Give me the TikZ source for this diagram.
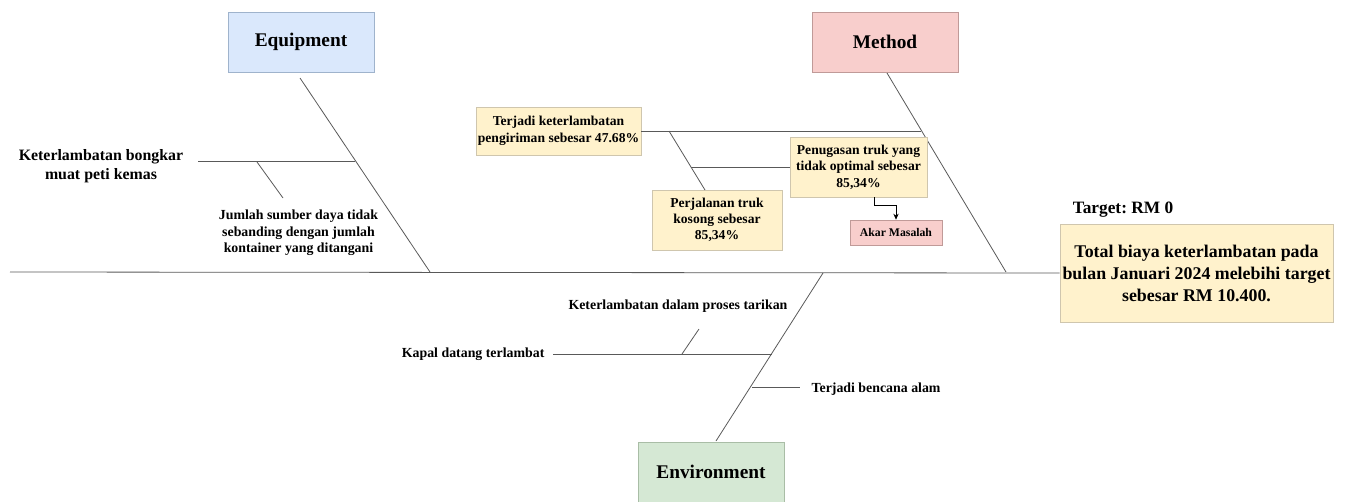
\documentclass[tikz,border=0pt]{standalone}
\usepackage{fontspec}
\setmainfont{Liberation Serif}
\usetikzlibrary{calc,arrows.meta}
\frenchspacing

\definecolor{eqfill}{HTML}{DAE8FC}
\definecolor{eqline}{HTML}{9FB3CC}
\definecolor{mefill}{HTML}{F8CECC}
\definecolor{meline}{HTML}{C09A98}
\definecolor{enfill}{HTML}{D5E8D4}
\definecolor{enline}{HTML}{A9BDA6}
\definecolor{yefill}{HTML}{FFF2CC}
\definecolor{yeline}{HTML}{CFC6AE}

\begin{document}
\begin{tikzpicture}[x=0.75pt, y=-0.75pt,
	catbox/.style={rectangle, draw=#1line, fill=#1fill, line width=0.6pt, minimum width=109.5pt, minimum height=45pt, font=\fontsize{14.5}{16}\selectfont\bfseries},
	causebox/.style={rectangle, draw=yeline, fill=yefill, line width=0.5pt, align=center, inner sep=0.5pt, font=\fontsize{10.2}{12.5}\selectfont\bfseries},
	causetext/.style={align=center, inner sep=1pt, font=\fontsize{10.4}{12.5}\selectfont\bfseries},
	bone/.style={draw=black!65, line width=0.6pt},
	]
	\useasboundingbox (0,0) rectangle (1347,501);

	% head of the fish
	\node[rectangle, draw=yeline, fill=yefill, line width=0.6pt, minimum width=204.75pt, minimum height=73.5pt, align=center, inner sep=1pt, font=\fontsize{13.4}{16.5}\selectfont\bfseries] at (1196.5, 273) (effect) {Total biaya keterlambatan pada\\bulan Januari 2024 melebihi target\\sebesar RM 10.400.};
	\node[font=\fontsize{13}{15}\selectfont\bfseries] at (1123, 210) (target) {Target: RM 0};

	% categories
	\node[catbox=eq] at (301, 42) (equip) {Equipment};
	\node[catbox=me] at (885, 42) (method) {Method};
	\node[catbox=en] at (711, 472) (environ) {Environment};

	% spine and main bones
	\coordinate (tail) at (10, 272);
	\coordinate (eqtop) at (300, 78);
	\coordinate (eqjoin) at (430, 272);
	\coordinate (metop) at (887, 73);
	\coordinate (mejoin) at (1006, 272);
	\coordinate (enjoin) at (823, 273);
	\coordinate (entop) at (716, 441);
	\draw[bone] (tail) -- (effect.west);
	\draw[bone] (eqtop) -- (eqjoin);
	\draw[bone] (metop) -- (mejoin);
	\draw[bone] (enjoin) -- (entop);

	% equipment causes
	\node[causetext, font=\fontsize{11.9}{14}\selectfont\bfseries] at (101, 166) (bongkar) {Keterlambatan bongkar\\muat peti kemas};
	\node[causetext] at (298.5, 233) (sumber) {Jumlah sumber daya tidak\\sebanding dengan jumlah\\kontainer yang ditangani};
	\coordinate (bongkarl) at (198, 161);
	\coordinate (bongkarr) at (355, 161);
	\coordinate (sumbera) at (257, 162);
	\coordinate (sumberb) at (283, 198);
	\draw[bone] (bongkarl) -- (bongkarr);
	\draw[bone] (sumbera) -- (sumberb);

	% method causes
	\node[causebox, minimum width=123.75pt, minimum height=36pt] at (558.5, 131) (kirim) {Terjadi keterlambatan\\pengiriman sebesar 47.68\%};
	\node[causebox, minimum width=97.5pt, minimum height=45pt] at (717, 220) (kosong) {\raisebox{-3pt}{\shortstack{Perjalanan truk\\kosong sebesar\\85,34\%}}};
	\node[causebox, minimum width=102.75pt, minimum height=45pt] at (858.5, 167) (tugas) {Penugasan truk yang\\tidak optimal sebesar\\85,34\%};
	\node[rectangle, draw=meline, fill=mefill, line width=0.5pt, minimum width=69pt, minimum height=18.75pt, font=\fontsize{8.8}{10}\selectfont\bfseries] at (896, 232.5) (akar) {Akar Masalah};
	\coordinate (kirimr) at (921, 131);
	\coordinate (kosonga) at (669, 131);
	\coordinate (kosongb) at (705, 190);
	\coordinate (tugasl) at (691, 167);
	\draw[bone] (kirim.east) -- (kirimr);
	\draw[bone] (kosonga) -- (kosongb);
	\draw[bone] (tugasl) -- (tugas.west);
	\draw[black, line width=0.6pt, -{Stealth[length=4.5pt, width=4pt]}] ([xshift=12pt]tugas.south) -- ++(0, 8) -| (akar.north);

	% environment causes
	\node[causetext, anchor=east] at (546, 354) (kapal) {Kapal datang terlambat};
	\node[causetext] at (678, 306) (tarikan) {Keterlambatan dalam proses tarikan};
	\node[causetext, anchor=west] at (810, 389) (bencana) {Terjadi bencana alam};
	\coordinate (kapall) at (553, 354);
	\coordinate (kapalr) at (772, 354);
	\coordinate (tarikana) at (682, 354);
	\coordinate (tarikanb) at (699, 329);
	\coordinate (bencanal) at (752, 387);
	\coordinate (bencanar) at (800, 387);
	\draw[bone] (kapall) -- (kapalr);
	\draw[bone] (tarikana) -- (tarikanb);
	\draw[bone] (bencanal) -- (bencanar);
\end{tikzpicture}
\end{document}
